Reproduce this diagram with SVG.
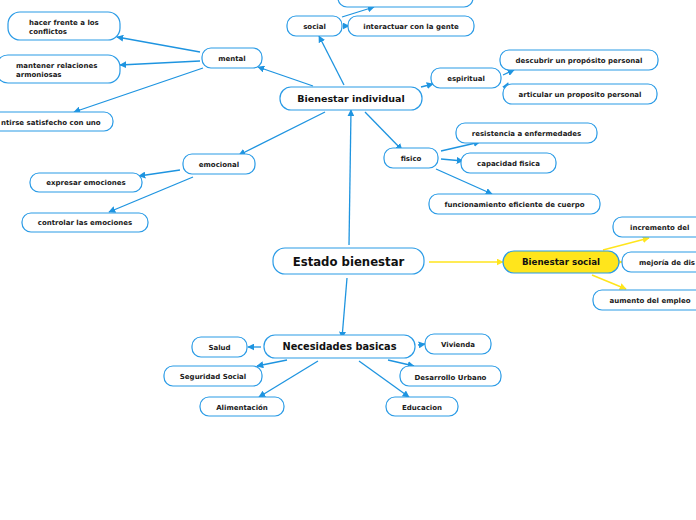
<svg xmlns="http://www.w3.org/2000/svg" width="696" height="520" viewBox="0 0 696 520">
<style>
.n{fill:#fff;stroke:#2a9be6;stroke-width:1.2}
.y{fill:#ffe51c;stroke:#2a9be6;stroke-width:1.2}
.t{font-family:"DejaVu Sans",Verdana,sans-serif;font-weight:bold;font-size:7px;fill:#1a1a1a;text-anchor:middle}
.ts{font-family:"DejaVu Sans",Verdana,sans-serif;font-weight:bold;font-size:7px;fill:#1a1a1a}
.tb{font-family:"DejaVu Sans",Verdana,sans-serif;font-weight:bold;font-size:9.6px;fill:#111;text-anchor:middle}
.c{stroke:#1e94e0;stroke-width:1.3;fill:none;marker-end:url(#a)}
.cy{stroke:#ffe51c;stroke-width:1.5;fill:none;marker-end:url(#ay)}
</style>
<defs>
<marker id="a" viewBox="0 0 10 10" refX="9" refY="5" markerWidth="7" markerHeight="7" markerUnits="userSpaceOnUse" orient="auto"><path d="M0,0L10,5L0,10z" fill="#1e94e0"/></marker>
<marker id="ay" viewBox="0 0 10 10" refX="9" refY="5" markerWidth="7" markerHeight="7" markerUnits="userSpaceOnUse" orient="auto"><path d="M0,0L10,5L0,10z" fill="#ffe51c"/></marker>
</defs>
<rect width="696" height="520" fill="#fff"/>
<g id="connectors">
<line class="c" x1="200" y1="52" x2="117" y2="37"/>
<line class="c" x1="200" y1="61" x2="120" y2="65"/>
<line class="c" x1="203" y1="68" x2="74" y2="112"/>
<line class="c" x1="313" y1="86" x2="258" y2="67"/>
<line class="c" x1="344" y1="85" x2="319" y2="36"/>
<line class="c" x1="342" y1="17" x2="374" y2="7"/>
<line class="c" x1="344" y1="26" x2="349" y2="26"/>
<line class="c" x1="421" y1="87" x2="433" y2="84"/>
<line class="c" x1="503" y1="75" x2="514" y2="70"/>
<line class="c" x1="505" y1="89" x2="508" y2="83"/>
<line class="c" x1="365" y1="112" x2="402" y2="150"/>
<line class="c" x1="441" y1="151" x2="480" y2="142"/>
<line class="c" x1="441" y1="159" x2="463" y2="161"/>
<line class="c" x1="436" y1="169" x2="492" y2="194"/>
<line class="c" x1="325" y1="112" x2="239" y2="155"/>
<line class="c" x1="180" y1="170" x2="139" y2="176"/>
<line class="c" x1="193" y1="177" x2="109" y2="212"/>
<line class="c" x1="349" y1="245" x2="351" y2="110"/>
<line class="c" x1="347" y1="278" x2="342" y2="338"/>
<line class="c" x1="261" y1="347" x2="248" y2="347"/>
<line class="c" x1="287" y1="360" x2="257" y2="366"/>
<line class="c" x1="318" y1="361" x2="259" y2="397"/>
<line class="c" x1="359" y1="361" x2="409" y2="397"/>
<line class="c" x1="388" y1="360" x2="414" y2="366"/>
<line class="c" x1="418" y1="345" x2="425" y2="344"/>
<line class="cy" x1="429" y1="262" x2="503" y2="262"/>
<line class="cy" x1="603" y1="250" x2="649" y2="238"/>
<line class="cy" x1="619" y1="262" x2="622" y2="262"/>
<line class="cy" x1="592" y1="275" x2="626" y2="289"/>
</g>
<g id="n-hacer"><rect class="n" x="8" y="12" width="112" height="28" rx="12"/><text class="ts" x="29" y="24.5">hacer frente a los</text><text class="ts" x="29" y="33.5">conflictos</text></g>
<g id="n-mental"><rect class="n" x="202" y="48" width="60" height="20" rx="9"/><text class="t" x="232" y="60.5">mental</text></g>
<g id="n-mantener"><rect class="n" x="-4" y="55" width="124" height="28" rx="12"/><text class="ts" x="16" y="67.5">mantener relaciones</text><text class="ts" x="16" y="76.5">armoniosas</text></g>
<g id="n-sentirse"><rect class="n" x="-40" y="112" width="153" height="19" rx="9"/><text class="ts" x="1" y="124.5">ntirse satisfecho con uno</text></g>
<g id="n-social"><rect class="n" x="287" y="16" width="55" height="20" rx="9"/><text class="t" x="314.5" y="28.5">social</text></g>
<g id="n-top"><rect class="n" x="338" y="-13" width="135" height="20" rx="9"/></g>
<g id="n-interactuar"><rect class="n" x="348" y="16" width="126" height="20" rx="9"/><text class="t" x="411" y="28.5">interactuar con la gente</text></g>
<g id="n-bi"><rect class="n" x="280" y="87" width="142" height="23" rx="11"/><text class="tb" x="351" y="101.8" style="font-size:9.5px">Bienestar individual</text></g>
<g id="n-espiritual"><rect class="n" x="431" y="68" width="70" height="20" rx="9"/><text class="t" x="466" y="80.5">espiritual</text></g>
<g id="n-descubrir"><rect class="n" x="500" y="50" width="158" height="20" rx="9"/><text class="t" x="579" y="62.5">descubrir un propósito personal</text></g>
<g id="n-articular"><rect class="n" x="503" y="84" width="154" height="20" rx="9"/><text class="t" x="580" y="96.5">articular un proposito personal</text></g>
<g id="n-resistencia"><rect class="n" x="456" y="123" width="141" height="20" rx="9"/><text class="t" x="526.5" y="135.5">resistencia a enfermedades</text></g>
<g id="n-fisico"><rect class="n" x="384" y="148" width="54" height="20" rx="9"/><text class="t" x="411" y="160.5">fisico</text></g>
<g id="n-capacidad"><rect class="n" x="461" y="153" width="95" height="20" rx="9"/><text class="t" x="508.5" y="165.5">capacidad fisica</text></g>
<g id="n-funcionamiento"><rect class="n" x="429" y="194" width="171" height="20" rx="9"/><text class="t" x="514.5" y="206.5">funcionamiento eficiente de cuerpo</text></g>
<g id="n-emocional"><rect class="n" x="183" y="154" width="72" height="20" rx="9"/><text class="t" x="219" y="166.5">emocional</text></g>
<g id="n-expresar"><rect class="n" x="30" y="173" width="112" height="19" rx="9"/><text class="t" x="86" y="185">expresar emociones</text></g>
<g id="n-controlar"><rect class="n" x="22" y="213" width="126" height="19" rx="9"/><text class="t" x="85" y="225">controlar las emociones</text></g>
<g id="n-estado"><rect class="n" x="273" y="248" width="151" height="26" rx="12"/><text class="tb" x="348.5" y="266" style="font-size:11.7px">Estado bienestar</text></g>
<g id="n-bs"><rect class="y" x="503" y="251" width="116" height="22" rx="11"/><text class="tb" x="561" y="265" style="font-size:8.7px">Bienestar social</text></g>
<g id="n-incremento"><rect class="n" x="613" y="217" width="100" height="20" rx="9"/><text class="ts" x="630" y="229.5">incremento del</text></g>
<g id="n-mejoria"><rect class="n" x="622" y="252" width="100" height="20" rx="9"/><text class="ts" x="639" y="264.5">mejoría de dis</text></g>
<g id="n-aumento"><rect class="n" x="593" y="290" width="115" height="20" rx="9"/><text class="t" x="650" y="302.5">aumento del empleo</text></g>
<g id="n-nb"><rect class="n" x="264" y="335" width="151" height="23" rx="11"/><text class="tb" x="339.5" y="350" style="font-size:9.8px">Necesidades basicas</text></g>
<g id="n-salud"><rect class="n" x="192" y="337" width="55" height="20" rx="9"/><text class="t" x="219.5" y="349.5">Salud</text></g>
<g id="n-vivienda"><rect class="n" x="425" y="334" width="66" height="20" rx="9"/><text class="t" x="458" y="346.5">Vivienda</text></g>
<g id="n-seguridad"><rect class="n" x="164" y="366" width="98" height="20" rx="9"/><text class="t" x="213" y="378.5">Seguridad Social</text></g>
<g id="n-desarrollo"><rect class="n" x="400" y="366" width="101" height="20" rx="9"/><text class="t" x="450.5" y="379.5">Desarrollo Urbano</text></g>
<g id="n-alimentacion"><rect class="n" x="200" y="397" width="84" height="19" rx="9"/><text class="t" x="242" y="409.5">Alimentación</text></g>
<g id="n-educacion"><rect class="n" x="386" y="397" width="72" height="19" rx="9"/><text class="t" x="422" y="409.5">Educacion</text></g>
</svg>
